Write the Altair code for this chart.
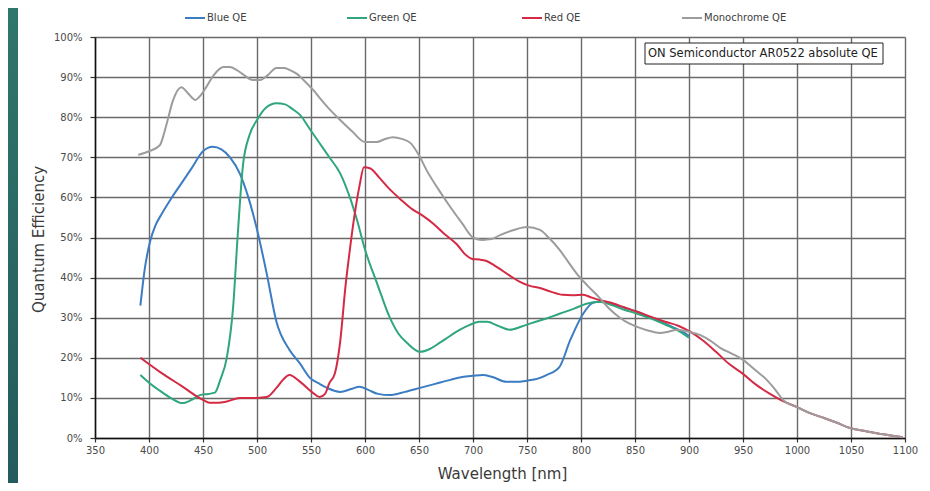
import altair as alt
import pandas as pd

# ---- data ----
blue_wl = [392, 396, 401, 406, 412, 420, 430, 440, 450, 459, 467, 475, 484, 492, 500, 509, 518, 530, 540, 549, 558,
           565, 577, 587, 595, 603, 612, 623, 637, 651, 665, 679, 690, 700, 709, 718, 731, 740, 750, 760, 768,
           780, 790, 802, 811, 817, 827, 840, 852, 865, 878, 890, 900]
blue_qe = [33, 42, 49, 53, 56, 59.5, 63.5, 67.5, 71.5, 72.6, 72, 70, 66, 60, 52, 41, 29, 22, 18.5, 15, 13.5,
           12.5, 11.5, 12.2, 12.8, 12, 11, 10.7, 11.5, 12.5, 13.5, 14.5, 15.2, 15.5, 15.7, 15.2, 14, 14, 14.3, 14.8, 15.7,
           17.7, 24.4, 31, 33.7, 34, 33.5, 32.5, 31.5, 30, 28.5, 27, 25.5]

green_wl = [392, 400, 410, 420, 431, 440, 447, 455, 461, 466, 472, 478, 482, 487, 493, 500, 508, 518, 526, 533,
            540, 549, 558, 567, 577, 586, 593, 600, 611, 623, 631, 639, 651, 660, 669, 679, 688, 697, 706, 713,
            723, 734, 745, 755, 768, 780, 793, 805, 817, 827, 840, 852, 865, 878, 890, 900]
green_qe = [15.7, 13.8, 11.8, 10, 8.7, 9.6, 10.7, 11, 11.3, 14.5, 20, 33, 50, 68, 75.5, 79.3, 82.3, 83.5, 83.2, 82,
            80.5, 77, 73.5, 70, 66, 60, 54, 47, 38.7, 30, 26, 23.7, 21.5, 22.2, 23.7, 25.5, 27, 28.2, 29, 29,
            28, 27, 27.8, 28.7, 29.8, 31, 32.2, 33.5, 34, 33.3, 32, 31, 29.8, 28.3, 26.8, 25]

red_wl = [392, 410, 430, 450, 456, 464, 472, 484, 492, 500, 509, 518, 524, 530, 540, 552, 558, 563, 567, 572,
          577, 582, 586, 590, 595, 599, 605, 613, 623, 633, 644, 653, 663, 673, 685, 694, 700, 706, 712, 720,
          734, 743, 752, 762, 772, 783, 792, 802, 810, 817, 827, 840, 852, 865, 878, 890, 901, 912, 925, 937,
          950, 962, 975, 987, 1000, 1012, 1025, 1037, 1049, 1062, 1075, 1087, 1098]
red_qe = [20, 16.5, 13, 9.5, 8.8, 8.8, 9.1, 10, 10, 10, 10.2, 12.5, 14.5, 15.7, 14, 11.2, 10.2, 11, 13.7, 16,
          24, 38, 47, 55, 63, 67.5, 67.2, 65, 62, 59.5, 57, 55.5, 53.5, 51, 48.3, 45.5, 44.6, 44.5, 44.2, 43,
          40.5, 39, 38, 37.4, 36.5, 35.7, 35.6, 35.7, 35, 34.4, 33.8, 32.6, 31.5, 30.2, 29, 28, 26.5, 24.5, 21.5, 18.5,
          16, 13.3, 11, 9.2, 7.7, 6.2, 5, 3.8, 2.5, 1.8, 1.1, 0.6, 0.2]

mono_wl = [390, 400, 410, 414, 417, 422, 430, 436, 443, 448, 453, 460, 469, 475, 481, 488, 496, 503, 510, 518,
           525, 530, 537, 543, 552, 558, 567, 577, 588, 600, 611, 618, 626, 634, 642, 650, 657, 668, 679, 690,
           700, 709, 717, 725, 737, 750, 762, 770, 780, 788, 796, 806, 817, 826, 836, 845, 852, 862, 873, 881,
           889, 901, 910, 919, 930, 940, 950, 961, 972, 980, 987, 1000, 1012, 1025, 1037, 1049, 1062, 1075, 1087, 1098]
mono_qe = [70.6, 71.5, 73, 76, 79, 84, 87.5, 86, 84.3, 85.5, 87.5, 90.5, 92.5, 92.5, 91.8, 90.5, 89.3, 89.3, 90.5, 92.3,
           92.3, 91.8, 90.8, 89.3, 86.8, 84.8, 82, 79.3, 76.5, 73.8, 73.8, 74.5, 75, 74.6, 73.6, 70.5, 66.8, 62, 57.6, 53.5,
           50, 49.4, 49.6, 50.6, 51.8, 52.6, 51.9, 50, 47, 44, 41, 38, 35, 32.3, 30, 28.5, 27.7, 26.8, 26.2, 26.5,
           27, 26.4, 25.7, 24.4, 22.3, 21, 19.5, 17, 14.5, 12, 9.5, 7.7, 6.2, 5, 3.8, 2.5, 1.8, 1.1, 0.6, 0.2]

series_names = ["Blue QE", "Green QE", "Red QE", "Monochrome QE"]
series_colors = ["#3b7cc2", "#2fa67c", "#d42a44", "#9c9c9c"]
x_ticks = list(range(350, 1101, 50))
y_ticks = list(range(0, 101, 10))
note_text = "ON Semiconductor AR0522 absolute QE"

rows = []
for name, wl, qe in zip(series_names, [blue_wl, green_wl, red_wl, mono_wl],
                        [blue_qe, green_qe, red_qe, mono_qe]):
    for i, (w, q) in enumerate(zip(wl, qe)):
        rows.append({"series": name, "wl": w, "qe": q, "order": i})
df = pd.DataFrame(rows)

# ---- layout ----
FONT = "DejaVu Sans"
W, H = 810, 401
PAD = {"left": 87, "top": 29, "right": 17, "bottom": 45}

x_enc = alt.X("wl:Q",
              scale=alt.Scale(domain=[350, 1100], nice=False, zero=False),
              axis=alt.Axis(values=x_ticks, title="Wavelength [nm]", format="d",
                            titleX=407, titleY=35, titleAlign="center", titleBaseline="middle",
                            tickSize=4, labelPadding=3, labelFlush=False))
y_enc = alt.Y("qe:Q",
              scale=alt.Scale(domain=[0, 100], nice=False),
              axis=alt.Axis(values=y_ticks, title="Quantum Efficiency",
                            labelExpr="datum.value + '%'",
                            titleX=-57, titleY=202, titleAngle=270,
                            titleAlign="center", titleBaseline="middle",
                            tickSize=5, labelPadding=8))

lines = alt.Chart(df).mark_line(interpolate="monotone", strokeWidth=2).encode(
    x=x_enc, y=y_enc,
    color=alt.Color("series:N", scale=alt.Scale(domain=series_names, range=series_colors), legend=None),
    order="order:Q",
)

one = alt.Data(values=[{"k": 1}])

# teal slide strip at the left edge
strip = alt.Chart(one).mark_rect(
    color=alt.LinearGradient(gradient="linear", x1=0, x2=0, y1=0, y2=1,
                             stops=[alt.GradientStop(offset=0, color="#2f766b"),
                                    alt.GradientStop(offset=1, color="#245a5c")])
).encode(x=alt.value(-87), x2=alt.value(-77), y=alt.value(-29), y2=alt.value(H + PAD["bottom"]))

# custom legend
legend_x = [90, 252, 427, 587]
legend_layers = []
for name, col, lx in zip(series_names, series_colors, legend_x):
    legend_layers.append(
        alt.Chart(one).mark_rule(color=col, strokeWidth=2).encode(
            x=alt.value(lx), x2=alt.value(lx + 20), y=alt.value(-19)))
    legend_layers.append(
        alt.Chart(one).mark_text(text=name, align="left", baseline="middle", font=FONT,
                                 fontSize=10, color="#404040").encode(
            x=alt.value(lx + 22), y=alt.value(-19)))

note_box = alt.Chart(one).mark_rect(fill="white", stroke="#222", strokeWidth=1).encode(
    x=alt.value(550), x2=alt.value(788), y=alt.value(6), y2=alt.value(27))
note = alt.Chart(one).mark_text(text=note_text, align="left", baseline="middle", font=FONT,
                                fontSize=11.5, color="#222").encode(x=alt.value(553), y=alt.value(17))

chart = alt.layer(strip, lines, note_box, note, *legend_layers).properties(
    width=W, height=H,
    autosize=alt.AutoSizeParams(type="none"),
    padding=PAD,
    background="white",
).configure_view(stroke=None).configure_axis(
    labelFont=FONT, labelFontSize=10, labelColor="#4a4a4a",
    titleFont=FONT, titleFontSize=15, titleColor="#3a3a3a", titleFontWeight="normal",
    gridColor="#6a6a6a", gridWidth=1.4, gridOpacity=1,
    domainColor="#111", domainWidth=1.5, tickColor="#333", tickWidth=1.2,
)

chart.save("out.html", embed_options={"renderer": "svg", "actions": False})
